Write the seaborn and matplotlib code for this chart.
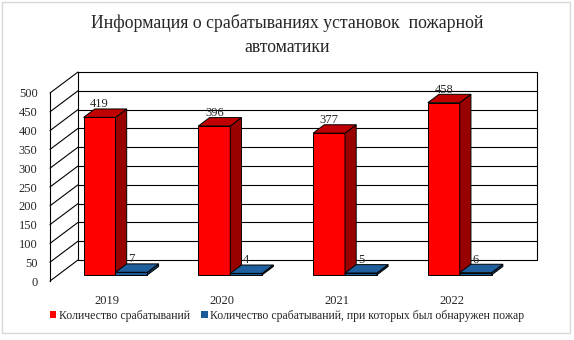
import numpy as np
import pandas as pd
import matplotlib
matplotlib.use('Agg')
import matplotlib.pyplot as plt
from matplotlib.patches import Polygon, Patch, Rectangle
import seaborn as sns

# данные
years = ['2019', '2020', '2021', '2022']
series = ['Количество срабатываний',
          'Количество срабатываний, при которых был обнаружен пожар']
triggered = [419, 396, 377, 458]
fires = [7, 4, 5, 6]
title = 'Информация о срабатываниях установок  пожарной\nавтоматики'

df = pd.DataFrame({
    'year': years * 2,
    'series': [series[0]] * 4 + [series[1]] * 4,
    'value': triggered + fires,
})

front_c = ['#FF0000', '#1A5A96']
top_c = ['#C00000', '#1F5F9E']
side_c = ['#990000', '#0E3F6E']

sns.set_style('white')
plt.rcParams['font.family'] = ['Liberation Serif', 'DejaVu Serif']

W, H = 574, 340
fig = plt.figure(figsize=(W / 100, H / 100), dpi=100)
# передняя плоскость осей
ax = fig.add_axes([50 / W, (H - 281) / H, 459 / W, 188 / H])

sns.barplot(data=df, x='year', y='value', hue='series', palette=front_c,
            saturation=1, width=0.556, gap=0, edgecolor='black',
            linewidth=0.7, legend=False, ax=ax, zorder=3)
ax.set_xlim(-0.5, 3.5)
ax.set_ylim(0, 500)

# пиксели -> единицы данных
px_x = 459 / 4
px_y = 188 / 500
Dx, Dy = 28 / px_x, 21 / px_y          # глубина стенки
b0x, b0y = 0.29 * Dx, 0.29 * Dy        # смещение столбцов вглубь
bdx, bdy = 0.4 * Dx, 0.4 * Dy          # толщина столбцов

# задняя стенка и сетка
yt = np.arange(0, 501, 50)
for y in yt:
    ax.plot([-0.5 + Dx, 3.5 + Dx], [y + Dy, y + Dy], color='black', lw=0.8,
            clip_on=False, zorder=1)
    ax.plot([-0.5, -0.5 + Dx], [y, y + Dy], color='black', lw=0.8,
            clip_on=False, zorder=1)
for xe in [-0.5 + Dx, 3.5 + Dx]:
    ax.plot([xe, xe], [Dy, 500 + Dy], color='black', lw=0.8,
            clip_on=False, zorder=1)

# объёмные столбцы
bars = list(ax.patches)
for k, p in enumerate(bars):
    s = k // 4
    x, w, h = p.get_x() + b0x, p.get_width(), p.get_height()
    y = b0y
    p.set_x(x)
    p.set_y(y)
    p.set_clip_on(False)
    p.set_zorder(3 + s)
    top = Polygon([(x, y + h), (x + w, y + h), (x + w + bdx, y + h + bdy),
                   (x + bdx, y + h + bdy)], closed=True, fc=top_c[s],
                  ec='black', lw=0.7, clip_on=False, zorder=3 + s)
    side = Polygon([(x + w, y), (x + w + bdx, y + bdy),
                    (x + w + bdx, y + h + bdy), (x + w, y + h)], closed=True,
                   fc=side_c[s], ec='black', lw=0.7, clip_on=False, zorder=3 + s)
    ax.add_patch(side)
    ax.add_patch(top)
    ax.annotate(str(int(round(h))), (x + w / 2, y + h + bdy),
                xytext=(0, -1), textcoords='offset points', ha='center',
                va='bottom', fontsize=9, zorder=10, annotation_clip=False)

for sp in ['top', 'right', 'bottom']:
    ax.spines[sp].set_visible(False)
ax.spines['left'].set_color('black')
ax.spines['left'].set_linewidth(0.8)
ax.set_yticks(yt)
ax.set_yticklabels([str(v) for v in yt], fontsize=9)
ax.tick_params(axis='y', length=0, pad=9)
ax.tick_params(axis='x', length=0, pad=10, labelsize=9)
ax.set_xlabel('')
ax.set_ylabel('')
ax.patch.set_alpha(0)

fig.text(0.5, (H - 35) / H, title, ha='center', va='center', fontsize=12.8,
         linespacing=1.5)

handles = [Patch(fc=front_c[0], ec='none'), Patch(fc=front_c[1], ec='none')]
fig.legend(handles, series, loc='center', bbox_to_anchor=(0.5, (H - 316) / H),
           ncol=2, frameon=False, fontsize=8.5, handlelength=0.55,
           handleheight=0.55, handletextpad=0.2, columnspacing=1.0)

fig.patches.append(Rectangle((2 / W, 7 / H), 568 / W, 331 / H,
                             transform=fig.transFigure, fill=False,
                             ec='#D9D9D9', lw=1))

fig.savefig('out.png', dpi=100)
